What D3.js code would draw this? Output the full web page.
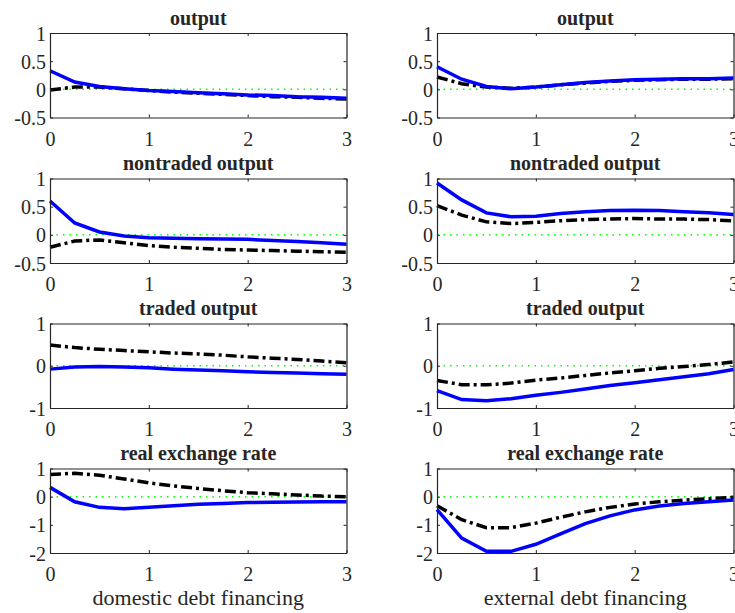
<!DOCTYPE html>
<html>
<head>
<meta charset="utf-8">
<script src="https://cdn.jsdelivr.net/npm/d3@7"></script>
<style>
  body { margin: 0; background: #fff; }
  svg text { font-family: "Liberation Serif", "Times New Roman", Times, serif; fill: #262626; }
</style>
</head>
<body>
<div class="canvas"></div>
<script>
// horizon (years, quarterly steps)
const horizon = [0, 0.25, 0.5, 0.75, 1, 1.25, 1.5, 1.75, 2, 2.25, 2.5, 2.75, 3];

const titles = ['output', 'nontraded output', 'traded output', 'real exchange rate'];
const columnLabels = ['domestic debt financing', 'external debt financing'];
const xTicks = [0, 1, 2, 3];
const yTicks = [[1, 0.5, 0, -0.5], [1, 0.5, 0, -0.5], [1, 0, -1], [1, 0, -1, -2]];
const yDomains = [[-0.5, 1], [-0.5, 1], [-1, 1], [-2, 1]];

// domestic debt financing (left column): solid blue / dash-dot black
const domOutputBlue    = [0.33, 0.13, 0.05, 0.01, -0.02, -0.04, -0.06, -0.08, -0.10, -0.11, -0.13, -0.14, -0.16];
const domOutputBlack   = [-0.01, 0.04, 0.04, 0.01, -0.02, -0.05, -0.07, -0.09, -0.11, -0.13, -0.14, -0.16, -0.17];
const domNontradBlue   = [0.60, 0.21, 0.05, -0.02, -0.05, -0.06, -0.07, -0.075, -0.08, -0.10, -0.12, -0.14, -0.165];
const domNontradBlack  = [-0.22, -0.11, -0.09, -0.14, -0.19, -0.22, -0.24, -0.26, -0.27, -0.28, -0.29, -0.30, -0.31];
const domTradedBlue    = [-0.08, -0.03, -0.02, -0.03, -0.05, -0.08, -0.10, -0.12, -0.14, -0.16, -0.17, -0.19, -0.20];
const domTradedBlack   = [0.49, 0.43, 0.39, 0.36, 0.33, 0.30, 0.28, 0.25, 0.21, 0.18, 0.15, 0.11, 0.07];
const domRerBlue       = [0.33, -0.18, -0.38, -0.43, -0.38, -0.32, -0.27, -0.24, -0.21, -0.20, -0.19, -0.18, -0.18];
const domRerBlack      = [0.79, 0.83, 0.76, 0.63, 0.49, 0.38, 0.29, 0.21, 0.14, 0.10, 0.06, 0.02, 0.0];

// external debt financing (right column)
const extOutputBlue    = [0.40, 0.18, 0.05, 0.01, 0.04, 0.08, 0.12, 0.15, 0.17, 0.18, 0.19, 0.19, 0.20];
const extOutputBlack   = [0.22, 0.10, 0.04, 0.02, 0.04, 0.08, 0.11, 0.14, 0.16, 0.17, 0.18, 0.18, 0.19];
const extNontradBlue   = [0.92, 0.62, 0.39, 0.32, 0.33, 0.38, 0.41, 0.43, 0.435, 0.43, 0.41, 0.39, 0.36];
const extNontradBlack  = [0.52, 0.35, 0.23, 0.20, 0.22, 0.25, 0.27, 0.28, 0.29, 0.28, 0.28, 0.27, 0.25];
const extTradedBlue    = [-0.59, -0.80, -0.83, -0.78, -0.70, -0.63, -0.55, -0.47, -0.40, -0.33, -0.26, -0.19, -0.09];
const extTradedBlack   = [-0.35, -0.45, -0.45, -0.41, -0.34, -0.29, -0.23, -0.17, -0.12, -0.06, -0.02, 0.03, 0.09];
const extRerBlue       = [-0.46, -1.47, -1.94, -1.94, -1.69, -1.32, -0.96, -0.68, -0.47, -0.33, -0.24, -0.18, -0.12];
const extRerBlack      = [-0.32, -0.82, -1.10, -1.10, -0.94, -0.73, -0.54, -0.38, -0.26, -0.18, -0.12, -0.07, -0.02];

const series = [
    [[domOutputBlue, domOutputBlack], [extOutputBlue, extOutputBlack]],
    [[domNontradBlue, domNontradBlack], [extNontradBlue, extNontradBlack]],
    [[domTradedBlue, domTradedBlack], [extTradedBlue, extTradedBlack]],
    [[domRerBlue, domRerBlack], [extRerBlue, extRerBlack]]
];

const dims = {width: 735, height: 613};
const colX = [50, 437];
const panelW = 296.5;
const rowY = [33, 178.5, 323.5, 468.5];
const panelH = 84.5;
const axisColor = '#262626';
const serif = '"Liberation Serif", "Times New Roman", Times, serif';

const svg = d3.select('.canvas')
    .append('svg')
    .attr('width', dims.width)
    .attr('height', dims.height);

titles.forEach((title, r) => {
    [0, 1].forEach(c => {
        const g = svg.append('g')
            .attr('transform', `translate(${colX[c]}, ${rowY[r]})`);

        const x = d3.scaleLinear().domain([0, 3]).range([0, panelW]);
        const y = d3.scaleLinear().domain(yDomains[r]).range([panelH, 0]);

        //zero reference line
        g.append('line')
            .attr('x1', x(0)).attr('x2', x(3))
            .attr('y1', y(0)).attr('y2', y(0))
            .attr('stroke', '#00ff00')
            .attr('stroke-width', 1.5)
            .attr('stroke-dasharray', '1.5,5');

        const line = d3.line()
            .x((d, i) => x(horizon[i]))
            .y(d => y(d));

        const [blue, black] = series[r][c];

        g.append('path')
            .datum(black)
            .attr('d', line)
            .attr('fill', 'none')
            .attr('stroke', '#000')
            .attr('stroke-width', 3.5)
            .attr('stroke-dasharray', '11,4,3,4');

        g.append('path')
            .datum(blue)
            .attr('d', line)
            .attr('fill', 'none')
            .attr('stroke', '#0000ff')
            .attr('stroke-width', 3.5);

        //axes, matlab style: box with ticks pointing inward
        const bottom = g.append('g')
            .attr('transform', `translate(0, ${panelH})`)
            .call(d3.axisBottom(x).tickValues(xTicks).tickFormat(d3.format('d')).tickSizeInner(-3).tickSizeOuter(0));
        const left = g.append('g')
            .call(d3.axisLeft(y).tickValues(yTicks[r]).tickFormat(d => d).tickSizeInner(-3).tickSizeOuter(0));
        const top = g.append('g')
            .call(d3.axisTop(x).tickValues(xTicks).tickFormat('').tickSizeInner(-3).tickSizeOuter(0));
        const right = g.append('g')
            .attr('transform', `translate(${panelW}, 0)`)
            .call(d3.axisRight(y).tickValues(yTicks[r]).tickFormat('').tickSizeInner(-3).tickSizeOuter(0));

        [bottom, left, top, right].forEach(a => {
            a.attr('font-family', serif);
            a.select('.domain').attr('stroke', axisColor).attr('stroke-width', 1.2);
            a.selectAll('.tick line').attr('stroke', axisColor);
            a.selectAll('text')
                .style('font-family', serif)
                .style('font-size', '20px')
                .attr('fill', axisColor);
        });
        bottom.selectAll('text').attr('y', 28).attr('dy', null);
        left.selectAll('text').attr('x', -4).attr('dy', '0.35em');

        //panel title
        g.append('text')
            .attr('x', panelW / 2)
            .attr('y', -8.5)
            .attr('text-anchor', 'middle')
            .style('font-family', serif)
            .style('font-size', '20px')
            .style('font-weight', 'bold')
            .attr('fill', '#000')
            .text(title);

        if (r === titles.length - 1) {
            g.append('text')
                .attr('x', panelW / 2)
                .attr('y', panelH + 52)
                .attr('text-anchor', 'middle')
                .style('font-family', serif)
                .style('font-size', '22px')
                .text(columnLabels[c]);
        }
    });
});
</script>
</body>
</html>
